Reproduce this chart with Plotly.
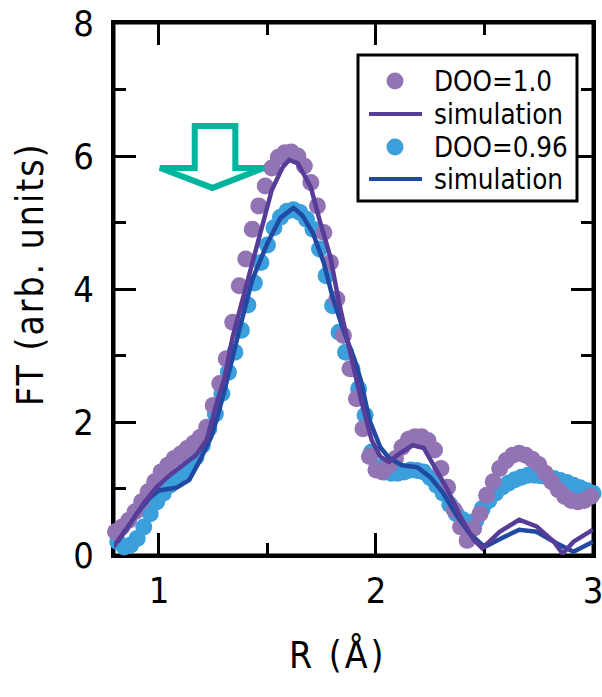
import plotly.graph_objects as go

# DOO=1.0 experimental points
x_doo10 = [0.80,0.83,0.86,0.89,0.92,0.95,0.98,1.01,1.04,1.07,1.10,1.13,1.16,1.19,1.22,1.25,1.28,1.31,1.34,1.37,
           1.40,1.43,1.46,1.49,1.52,1.55,1.58,1.61,1.64,1.67,1.70,1.73,1.76,1.79,1.82,1.85,1.88,1.91,1.94,1.97,
           2.00,2.03,2.06,2.09,2.12,2.15,2.18,2.21,2.24,2.27,2.30,2.33,2.36,2.39,2.42,2.45,2.48,2.51,2.54,2.57,
           2.60,2.63,2.66,2.69,2.72,2.75,2.78,2.81,2.84,2.87,2.90,2.93,2.96,2.99]
y_doo10 = [0.35,0.42,0.52,0.65,0.80,0.95,1.10,1.25,1.35,1.45,1.52,1.60,1.68,1.77,1.92,2.25,2.58,2.95,3.50,4.05,
           4.45,4.90,5.25,5.55,5.82,5.98,6.05,6.06,6.00,5.85,5.60,5.25,4.85,4.40,3.85,3.30,2.80,2.35,1.90,1.48,
           1.28,1.25,1.35,1.45,1.62,1.74,1.78,1.78,1.72,1.58,1.30,1.02,0.68,0.42,0.22,0.40,0.62,0.90,1.10,1.30,
           1.42,1.50,1.53,1.50,1.44,1.36,1.23,1.10,0.98,0.88,0.82,0.80,0.82,0.88]

# DOO=0.96 experimental points
x_doo096 = [0.81,0.84,0.87,0.90,0.93,0.96,0.99,1.02,1.05,1.08,1.11,1.14,1.17,1.20,1.23,1.26,1.29,1.32,1.35,1.38,
            1.41,1.44,1.47,1.50,1.53,1.56,1.59,1.62,1.65,1.68,1.71,1.74,1.77,1.80,1.83,1.86,1.89,1.92,1.95,1.98,
            2.01,2.04,2.07,2.10,2.13,2.16,2.19,2.22,2.25,2.28,2.31,2.34,2.37,2.40,2.43,2.46,2.49,2.52,2.55,2.58,
            2.61,2.64,2.67,2.70,2.73,2.76,2.79,2.82,2.85,2.88,2.91,2.94,2.97,3.00]
y_doo096 = [0.20,0.12,0.15,0.25,0.42,0.62,0.80,0.93,1.05,1.15,1.25,1.35,1.47,1.65,1.90,2.12,2.43,2.75,3.05,3.38,
            3.76,4.09,4.40,4.66,4.92,5.08,5.17,5.19,5.15,5.05,4.90,4.60,4.20,3.75,3.35,3.05,2.80,2.50,2.10,1.55,
            1.32,1.25,1.23,1.23,1.25,1.28,1.27,1.25,1.16,1.05,0.93,0.76,0.62,0.53,0.48,0.52,0.70,0.82,0.93,1.02,
            1.08,1.13,1.17,1.20,1.20,1.19,1.17,1.15,1.12,1.09,1.05,1.01,0.97,0.93]

# simulation for DOO=1.0
x_sim10 = [0.79,0.87,0.93,0.99,1.05,1.11,1.17,1.22,1.24,1.27,1.30,1.34,1.41,1.47,1.52,1.57,1.60,1.64,1.70,1.74,
           1.79,1.83,1.88,1.93,1.98,2.02,2.06,2.11,2.17,2.22,2.26,2.33,2.39,2.45,2.49,2.57,2.66,2.74,2.82,2.86,
           2.91,3.00]
y_sim10 = [0.12,0.48,0.78,1.02,1.20,1.35,1.50,1.73,1.98,2.33,2.63,3.28,4.14,4.89,5.49,5.83,5.94,5.89,5.53,5.04,
           4.48,3.79,3.08,2.35,1.73,1.48,1.40,1.53,1.65,1.61,1.38,0.98,0.57,0.23,0.10,0.35,0.53,0.43,0.20,0.02,
           0.20,0.38]

# simulation for DOO=0.96
x_sim096 = [0.81,0.90,0.96,1.00,1.08,1.14,1.19,1.24,1.27,1.30,1.37,1.43,1.50,1.56,1.62,1.66,1.71,1.76,1.80,1.85,
            1.90,1.93,1.97,2.02,2.06,2.12,2.19,2.25,2.31,2.37,2.43,2.50,2.59,2.66,2.74,2.83,2.91,3.00]
y_sim096 = [0.20,0.63,0.87,0.97,1.01,1.13,1.43,1.77,2.08,2.45,3.38,4.14,4.69,5.07,5.22,5.11,4.84,4.39,3.88,3.38,
            2.95,2.63,2.03,1.62,1.46,1.35,1.32,1.17,0.93,0.60,0.33,0.12,0.27,0.38,0.35,0.18,0.05,0.20]

x_ticks = [1, 2, 3]
y_ticks = [0, 2, 4, 6, 8]
legend_labels = ["DOO=1.0", "simulation", "DOO=0.96", "simulation"]

FONT = "DejaVu Sans Condensed, Liberation Sans Narrow, Roboto, sans-serif"
C_P_MARK = "#9274B4"
C_B_MARK = "#3A9FDB"
C_P_LINE = "#573C98"
C_B_LINE = "#2149A1"
C_ARROW = "#00B59D"

W, H = 602, 697
# plot area in window pixels
L, R, T, B = 114, 593, 23, 555
def px(xp):
    return (xp - L) / (R - L)
def py(yp):
    return (B - yp) / (B - T)

fig = go.Figure()
fig.add_trace(go.Scatter(x=x_doo096, y=y_doo096, mode="markers", name=legend_labels[2],
                         marker=dict(size=17, color=C_B_MARK), showlegend=False, cliponaxis=False))
fig.add_trace(go.Scatter(x=x_doo10, y=y_doo10, mode="markers", name=legend_labels[0],
                         marker=dict(size=17, color=C_P_MARK), showlegend=False, cliponaxis=False))
fig.add_trace(go.Scatter(x=x_sim096, y=y_sim096, mode="lines", name=legend_labels[3],
                         line=dict(color=C_B_LINE, width=4.5), showlegend=False))
fig.add_trace(go.Scatter(x=x_sim10, y=y_sim10, mode="lines", name=legend_labels[1],
                         line=dict(color=C_P_LINE, width=4.5), showlegend=False))

# plot frame (drawn below the traces; plot background is transparent)
fig.add_shape(type="rect", xref="paper", yref="paper", x0=0, x1=1, y0=0, y1=1,
              line=dict(color="black", width=3), fillcolor="rgba(0,0,0,0)", layer="below")

# hollow down arrow
fig.add_shape(type="path", xref="x", yref="y",
              path="M 1.165,6.45 L 1.352,6.45 L 1.352,5.82 L 1.484,5.82 L 1.247,5.52 L 1.005,5.82 L 1.165,5.82 Z",
              line=dict(color=C_ARROW, width=6), fillcolor="rgba(0,0,0,0)", layer="above")

# manual legend box
fig.add_shape(type="rect", xref="paper", yref="paper", x0=px(358), x1=px(577), y0=py(201), y1=py(55),
              line=dict(color="black", width=3), fillcolor="white", layer="above")
rows_y = [81, 114, 147, 179]
kinds = [("marker", C_P_MARK), ("line", C_P_LINE), ("marker", C_B_MARK), ("line", C_B_LINE)]
for label, ry, (kind, col) in zip(legend_labels, rows_y, kinds):
    if kind == "marker":
        fig.add_shape(type="circle", xref="paper", yref="paper",
                      x0=px(386.5), x1=px(403.5), y0=py(ry + 8.5), y1=py(ry - 8.5),
                      line=dict(width=0), fillcolor=col, layer="above")
    else:
        fig.add_shape(type="line", xref="paper", yref="paper",
                      x0=px(369), x1=px(422), y0=py(ry), y1=py(ry),
                      line=dict(color=col, width=4), layer="above")
    fig.add_annotation(text=label, xref="paper", yref="paper", x=px(432), y=py(ry),
                       xanchor="left", yanchor="middle", showarrow=False,
                       font=dict(family=FONT, size=27.5, color="black"))

axis_common = dict(showline=True, linecolor="black", linewidth=3, mirror="ticks",
                   ticks="inside", ticklen=22, tickwidth=3, tickcolor="black",
                   showgrid=False, zeroline=False, automargin=False,
                   layer="below traces", ticklabeloverflow="allow",
                   tickfont=dict(family=FONT, size=36, color="black"),
                   minor=dict(ticks="inside", ticklen=12, tickwidth=3, tickcolor="black"))

fig.update_xaxes(range=[0.793, 3.0], tickvals=x_ticks, ticktext=[str(v) for v in x_ticks],
                 minor_dtick=0.5, minor_tick0=0.5, ticklabelstandoff=2, **axis_common)
fig.update_yaxes(range=[0, 8], tickvals=y_ticks, ticktext=[str(v) for v in y_ticks],
                 minor_dtick=1, minor_tick0=0, ticklabelstandoff=10, **axis_common)

fig.add_annotation(text='<span style="letter-spacing:2px">FT (arb. units)</span>',
                   xref="paper", yref="paper", x=px(30), y=py(274),
                   xanchor="center", yanchor="middle",
                   textangle=-90, showarrow=False, font=dict(family=FONT, size=37, color="black"))
fig.add_annotation(text='<span style="letter-spacing:3px">R (Å)</span>',
                   xref="paper", yref="paper", x=px(337), y=py(655),
                   xanchor="center", yanchor="middle",
                   showarrow=False, font=dict(family=FONT, size=37, color="black"))

fig.update_layout(
    width=W, height=H,
    margin=dict(l=L, r=W - R, t=T, b=H - B, autoexpand=False),
    paper_bgcolor="white", plot_bgcolor="rgba(0,0,0,0)",
    showlegend=False,
)
# remove the browser's default 8px body margin so the figure fills the window
fig.write_html("out.html", config={"displayModeBar": False},
               post_script="document.body.style.margin='0px';")
